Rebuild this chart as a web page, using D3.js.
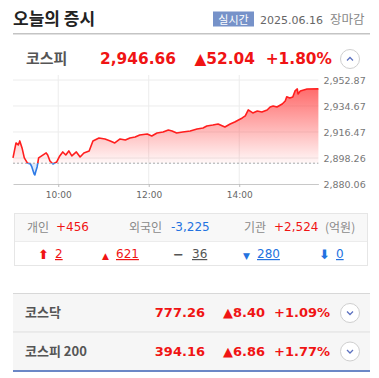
<!DOCTYPE html>
<html>
<head>
<meta charset="utf-8">
<script src="https://cdn.jsdelivr.net/npm/d3@7"></script>
<style>
  body { margin: 0; background: #fff; }
  svg { display: block; }
  .kr { font-family: "Noto Sans CJK KR", "Noto Sans", sans-serif; }
  .num { font-family: "DejaVu Sans", Verdana, sans-serif; }
</style>
</head>
<body>
<div id="chart"></div>
<script>
// intraday KOSPI readings (time, index)
var times = ["09:00","09:04","09:07","09:09","09:12","09:15","09:19","09:23","09:25","09:28","09:29","09:30","09:32","09:34","09:38","09:44","09:46","09:49","09:53","09:58",
  "10:02","10:06","10:10","10:14","10:18","10:24","10:29","10:34","10:41","10:46","10:54","11:02","11:09","11:15","11:22","11:29","11:35","11:42","11:48","11:58",
  "12:04","12:11","12:19","12:26","12:31","12:37","12:45","12:55","13:04","13:12","13:17","13:25","13:32","13:41","13:48","13:54",
  "14:04","14:08","14:12","14:16","14:18","14:24","14:30","14:37","14:41","14:45","14:50","14:57","15:01","15:03","15:07","15:11","15:14","15:17","15:18","15:21","15:30","15:45"];
var values = [2898.3,2908.8,2907.4,2910.2,2905.3,2898.3,2894.8,2894.1,2892.0,2887.1,2886.4,2888.5,2892.0,2898.3,2899.7,2901.8,2900.4,2896.2,2894.1,2895.5,
  2899.7,2902.5,2900.4,2903.2,2899.7,2902.5,2899.0,2901.8,2903.2,2910.2,2912.3,2911.6,2910.2,2908.8,2911.6,2910.9,2912.3,2913.0,2914.4,2915.1,
  2913.7,2915.8,2916.5,2917.9,2917.2,2915.8,2916.5,2917.2,2918.6,2919.3,2920.7,2921.4,2922.1,2920.0,2922.1,2923.5,
  2926.3,2927.7,2931.9,2930.5,2929.8,2931.2,2930.5,2931.9,2934.0,2934.7,2934.0,2936.1,2938.2,2941.1,2940.3,2941.0,2945.2,2946.6,2943.1,2945.2,2946.6,2946.66];
var prevClose = 2894.62;
var yTicks = [2880.06, 2898.26, 2916.47, 2934.67, 2952.87];
var xTicks = ["10:00", "12:00", "14:00"];

// summary rows
var indexNames = ["코스닥", "코스피 200"];
var indexValues = ["777.26", "394.16"];
var indexChanges = ["8.40", "6.86"];
var indexRates = ["+1.09%", "+1.77%"];

// investors (억원)
var investorNames = ["개인", "외국인", "기관"];
var investorValues = ["+456", "-3,225", "+2,524"];

// advance / decline counts
var breadthSymbols = ["\u2B06", "\u25B2", "\u2212", "\u25BC", "\u2B07"];
var breadthCounts = [2, 621, 36, 280, 0];

var RED = "#f01414", BLUE = "#2372e0", GRAY = "#555";

var W = 379, H = 378;
var svg = d3.select("#chart").append("svg").attr("width", W).attr("height", H);

// ---- header
svg.append("text").attr("class", "kr").attr("x", 13).attr("y", 24.5)
  .attr("font-size", 17).attr("font-weight", 700).attr("fill", "#222").text("오늘의 증시");
svg.append("rect").attr("x", 213).attr("y", 11.5).attr("width", 41).attr("height", 15).attr("fill", "#7692c9");
svg.append("text").attr("class", "kr").attr("x", 233.5).attr("y", 23.5).attr("text-anchor", "middle")
  .attr("font-size", 11).attr("fill", "#fff").text("실시간");
svg.append("text").attr("class", "num").attr("x", 260).attr("y", 23.5)
  .attr("font-size", 11).attr("fill", "#666").text("2025.06.16");
svg.append("text").attr("class", "kr").attr("x", 330).attr("y", 24)
  .attr("font-size", 12.5).attr("fill", "#888").text("장마감");
svg.append("rect").attr("x", 13).attr("y", 33).attr("width", 357).attr("height", 1.5).attr("fill", "#c4c4c4");

// ---- main row
function chevron(cx, cy, up) {
  svg.append("circle").attr("cx", cx).attr("cy", cy).attr("r", 9.5)
    .attr("fill", "#fff").attr("stroke", "#cfcfcf");
  var d = up ? [[cx - 3, cy + 1.5], [cx, cy - 1.5], [cx + 3, cy + 1.5]]
             : [[cx - 3, cy - 1.5], [cx, cy + 1.5], [cx + 3, cy - 1.5]];
  svg.append("path").attr("d", d3.line()(d)).attr("fill", "none")
    .attr("stroke", "#5d72c0").attr("stroke-width", 1.3);
}
svg.append("text").attr("class", "kr").attr("x", 26).attr("y", 64)
  .attr("font-size", 15).attr("font-weight", 700).attr("fill", GRAY).text("코스피");
var mainNums = [["2,946.66", 176], ["\u25B252.04", 255], ["+1.80%", 332]];
mainNums.forEach(function (m) {
  svg.append("text").attr("class", "num").attr("x", m[1]).attr("y", 63.5).attr("text-anchor", "end")
    .attr("font-size", 15.4).attr("font-weight", 700).attr("fill", RED).text(m[0]);
});
chevron(350, 59, true);

// ---- chart
var parseT = d3.timeParse("%H:%M");
var data = times.map(function (t, i) { return { t: parseT(t), v: values[i] }; });

var x = d3.scaleTime().domain([parseT("09:00"), parseT("15:45")]).range([13, 318.4]);
var y = d3.scaleLinear().domain([yTicks[0], yTicks[yTicks.length - 1]]).range([184, 80]);

var g = svg.append("g");

// grid
g.selectAll(".hgrid").data(yTicks.slice(1)).enter().append("line")
  .attr("x1", 13).attr("x2", 318.4)
  .attr("y1", function (d) { return y(d); }).attr("y2", function (d) { return y(d); })
  .attr("stroke", "#ececec");
g.selectAll(".vgrid").data(xTicks).enter().append("line")
  .attr("x1", function (d) { return x(parseT(d)); }).attr("x2", function (d) { return x(parseT(d)); })
  .attr("y1", 75).attr("y2", 184).attr("stroke", "#ececec");

var defs = svg.append("defs");
var base = y(prevClose);
defs.append("clipPath").attr("id", "clipUp").append("rect")
  .attr("x", 0).attr("y", 0).attr("width", W).attr("height", base);
defs.append("clipPath").attr("id", "clipDown").append("rect")
  .attr("x", 0).attr("y", base).attr("width", W).attr("height", H - base);

var gradUp = defs.append("linearGradient").attr("id", "gradUp")
  .attr("gradientUnits", "userSpaceOnUse").attr("x1", 0).attr("x2", 0)
  .attr("y1", y(d3.max(values))).attr("y2", base);
gradUp.append("stop").attr("offset", "0%").attr("stop-color", "#ff4747").attr("stop-opacity", 0.8);
gradUp.append("stop").attr("offset", "100%").attr("stop-color", "#ff4747").attr("stop-opacity", 0.04);

var area = d3.area().x(function (d) { return x(d.t); }).y0(base).y1(function (d) { return y(d.v); });
var line = d3.line().x(function (d) { return x(d.t); }).y(function (d) { return y(d.v); });

g.append("path").datum(data).attr("d", area).attr("fill", "url(#gradUp)").attr("clip-path", "url(#clipUp)");
g.append("path").datum(data).attr("d", area).attr("fill", "#9fc2f2").attr("opacity", 0.35).attr("clip-path", "url(#clipDown)");

// previous close
g.append("line").attr("x1", 13).attr("x2", 318.4).attr("y1", base).attr("y2", base)
  .attr("stroke", "#a8a8a8").attr("stroke-dasharray", "2,2");

g.append("path").datum(data).attr("d", line).attr("fill", "none")
  .attr("stroke", "#ff1e1e").attr("stroke-width", 1.6).attr("stroke-linejoin", "round")
  .attr("clip-path", "url(#clipUp)");
g.append("path").datum(data).attr("d", line).attr("fill", "none")
  .attr("stroke", "#2f7be6").attr("stroke-width", 1.6).attr("stroke-linejoin", "round")
  .attr("clip-path", "url(#clipDown)");

// axes
var xAxis = g.append("g").attr("transform", "translate(0,184)")
  .call(d3.axisBottom(x).tickValues(xTicks.map(parseT)).tickFormat(d3.timeFormat("%H:%M")).tickSize(3).tickSizeOuter(0));
xAxis.select(".domain").attr("stroke", "#c8c8c8");
xAxis.selectAll(".tick line").attr("stroke", "#bbb");
xAxis.selectAll("text").attr("font-family", "DejaVu Sans, sans-serif").attr("font-size", 9)
  .attr("fill", "#666").attr("dy", "0.9em");

var yAxis = g.append("g").attr("transform", "translate(318.4,0)")
  .call(d3.axisRight(y).tickValues(yTicks).tickFormat(d3.format(",.2f")).tickSize(0).tickPadding(5));
yAxis.select(".domain").remove();
yAxis.selectAll("text").attr("font-family", "DejaVu Sans, sans-serif").attr("font-size", 9.5).attr("fill", "#777");

// ---- investors box
svg.append("rect").attr("x", 14.5).attr("y", 213.5).attr("width", 353).attr("height", 52)
  .attr("fill", "#fff").attr("stroke", "#e6e6e6");
svg.append("rect").attr("x", 15).attr("y", 214).attr("width", 352).attr("height", 27).attr("fill", "#f8f8f8");
svg.append("line").attr("x1", 15).attr("x2", 367).attr("y1", 241.5).attr("y2", 241.5).attr("stroke", "#ececec");

var invNameX = [27, 129, 244], invValX = [56, 171, 274];
investorNames.forEach(function (n, i) {
  svg.append("text").attr("class", "kr").attr("x", invNameX[i]).attr("y", 231.5)
    .attr("font-size", 12).attr("fill", "#8a8a8a").text(n);
  svg.append("text").attr("class", "num").attr("x", invValX[i]).attr("y", 231)
    .attr("font-size", 12).attr("fill", investorValues[i][0] === "-" ? BLUE : RED).text(investorValues[i]);
});
svg.append("text").attr("class", "kr").attr("x", 325).attr("y", 231.5)
  .attr("font-size", 12).attr("fill", "#8a8a8a").text("(억원)");

var symX = [38, 102, 173, 243, 319], cntX = [55, 116, 192, 257, 336];
var symColor = [RED, RED, "#555", BLUE, BLUE];
var symSize = [13, 9, 13, 9, 13];
breadthCounts.forEach(function (c, i) {
  svg.append("text").attr("class", "num").attr("x", symX[i]).attr("y", 258.5)
    .attr("font-size", symSize[i]).attr("font-weight", 700).attr("fill", symColor[i]).text(breadthSymbols[i]);
  svg.append("text").attr("class", "num").attr("x", cntX[i]).attr("y", 258)
    .attr("font-size", 12).attr("fill", symColor[i]).attr("text-decoration", "underline").text(c);
});

// ---- other indices
svg.append("line").attr("x1", 13).attr("x2", 370).attr("y1", 293.5).attr("y2", 293.5).attr("stroke", "#d8d8d8");
indexNames.forEach(function (n, i) {
  var top = 294 + i * 38.5;
  svg.append("rect").attr("x", 13).attr("y", top).attr("width", 357).attr("height", 38).attr("fill", "#f6f6f6");
  if (i > 0) svg.append("line").attr("x1", 13).attr("x2", 370).attr("y1", top - 0.5).attr("y2", top - 0.5).attr("stroke", "#dcdcdc");
  var by = top + 23;
  svg.append("text").attr("class", "kr").attr("x", 25).attr("y", by)
    .attr("font-size", 13).attr("font-weight", 700).attr("fill", GRAY).text(n);
  [[indexValues[i], 205], ["\u25B2" + indexChanges[i], 265], [indexRates[i], 330]].forEach(function (m) {
    svg.append("text").attr("class", "num").attr("x", m[1]).attr("y", by).attr("text-anchor", "end")
      .attr("font-size", 13).attr("font-weight", 700).attr("fill", RED).text(m[0]);
  });
  chevron(350, top + 19, false);
});
svg.append("rect").attr("x", 13).attr("y", 370).attr("width", 357).attr("height", 2).attr("fill", "#6b87c6");
</script>
</body>
</html>
